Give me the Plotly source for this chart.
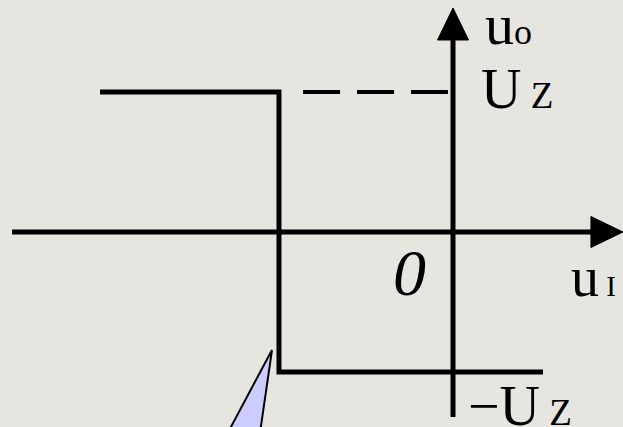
import plotly.graph_objects as go

# ---- data (logical units: U_Z = 1) ----
UZ = 1.0                      # output saturation level
UT = -1.243                   # threshold voltage (negative)
step_x = [-2.521, UT, UT, 0.643]
step_y = [UZ, UZ, -UZ, -UZ]
dash_x = [-1.071, -0.036]
dash_y = [UZ, UZ]
xaxis_ext = [-3.15, 1.214]    # horizontal axis span (tip included)
yaxis_ext = [-1.321, 1.6]     # vertical axis span (tip included)
callout_x = [-1.293, -1.636, -1.386]
callout_y = [-0.843, -1.486, -1.486]

# ---- geometry helpers (layout only) ----
W, H = 623, 427
OX, OY, S = 453, 232, 140.0
def ux(px): return (px - OX) / S
def uy(py): return (OY - py) / S

BG = "#E6E5E0"
fig = go.Figure()

# axes lines
fig.add_trace(go.Scatter(x=[xaxis_ext[0], xaxis_ext[1] - 0.1], y=[0, 0], mode="lines",
                         line=dict(color="black", width=5), hoverinfo="skip"))
fig.add_trace(go.Scatter(x=[0, 0], y=[yaxis_ext[0], yaxis_ext[1] - 0.1], mode="lines",
                         line=dict(color="black", width=5), hoverinfo="skip"))
# arrowheads
al, aw = 32 / S, 15.5 / S
fig.add_trace(go.Scatter(x=[xaxis_ext[1], xaxis_ext[1] - al, xaxis_ext[1] - al, xaxis_ext[1]],
                         y=[0, aw, -aw, 0], mode="lines", fill="toself", fillcolor="black",
                         line=dict(color="black", width=1), hoverinfo="skip"))
fig.add_trace(go.Scatter(x=[0, aw, -aw, 0],
                         y=[yaxis_ext[1], yaxis_ext[1] - al, yaxis_ext[1] - al, yaxis_ext[1]],
                         mode="lines", fill="toself", fillcolor="black",
                         line=dict(color="black", width=1), hoverinfo="skip"))
# characteristic
fig.add_trace(go.Scatter(x=step_x, y=step_y, mode="lines",
                         line=dict(color="black", width=5), hoverinfo="skip"))
fig.add_trace(go.Scatter(x=dash_x, y=dash_y, mode="lines",
                         line=dict(color="black", width=4, dash="37px,17px"), hoverinfo="skip"))
# callout pointer
fig.add_trace(go.Scatter(x=callout_x + [callout_x[0]], y=callout_y + [callout_y[0]],
                         mode="lines", fill="toself", fillcolor="#CCCCFF",
                         line=dict(color="black", width=2), hoverinfo="skip"))

SERIF = "Liberation Serif"
def label(text, left_px, baseline_px, fs, italic=False):
    top_px = baseline_px - 0.891 * fs - 1
    fig.add_annotation(x=left_px / W, y=1 - top_px / H,
                       xref="paper", yref="paper", text=text, showarrow=False,
                       xanchor="left", yanchor="top",
                       font=dict(family=SERIF, size=fs, color="black",
                                 style="italic" if italic else "normal"))

# u_o (output axis label)
label("u<span style='font-size:36px'>o</span>", 483, 43, 58)
# U_Z
label("U<span style='font-size:37px'> Z</span>", 479, 107, 56)
# origin
label("0", 391, 294, 66, italic=True)
# u_I (input axis label)
label("u<span style='font-size:29px'> I</span>", 569, 295, 56)
# -U_Z
label("−U<span style='font-size:37px'> Z</span>", 466, 424, 56)

fig.update_layout(width=W, height=H, margin=dict(l=0, r=0, t=0, b=0),
                  paper_bgcolor=BG, plot_bgcolor=BG, showlegend=False,
                  xaxis=dict(range=[ux(0), ux(W)], visible=False, fixedrange=True),
                  yaxis=dict(range=[uy(H), uy(0)], visible=False, fixedrange=True))
fig.write_html("out.html", config={"displayModeBar": False},
               post_script="document.body.style.margin='0';document.body.style.overflow='hidden';")
